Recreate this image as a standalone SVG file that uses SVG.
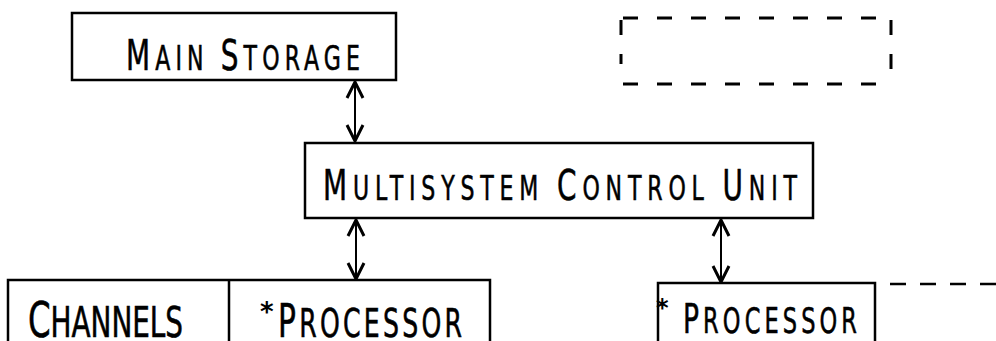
<svg xmlns="http://www.w3.org/2000/svg" width="996" height="341" viewBox="0 0 996 341">
<style>
.box{fill:none;stroke:#000;stroke-width:2.5}
.dash{fill:none;stroke:#000;stroke-width:3;stroke-dasharray:15 19}
.conn{fill:none;stroke:#000;stroke-width:2}
.t{font-family:"DejaVu Sans Condensed","DejaVu Sans",sans-serif;fill:#000;stroke:#000;stroke-width:0.4}
.ast{font-family:"DejaVu Sans",sans-serif;font-weight:bold;fill:#000}
</style>
<defs>
<marker id="ah" viewBox="0 0 20 20" refX="18" refY="10" markerWidth="20" markerHeight="20" markerUnits="userSpaceOnUse" orient="auto-start-reverse">
<path d="M2,2 L18,10 L2,18" fill="none" stroke="#000" stroke-width="3"/>
</marker>
</defs>
<g id="main-storage">
<rect class="box" x="72" y="13" width="324" height="67"/>
<text class="t" transform="translate(126,70) scale(1,1.4)" x="0" y="0" textLength="234" lengthAdjust="spacing"><tspan font-size="31">M</tspan><tspan font-size="24.5">AIN </tspan><tspan font-size="31">S</tspan><tspan font-size="24.5">TORAGE</tspan></text>
</g>
<g id="dashed-box">
<path class="dash" d="M623,18 H891 M891,20 V82 M623,84 H891 M621,20 V64"/>
</g>
<g id="mcu">
<rect class="box" x="305" y="143" width="508" height="75"/>
<text class="t" transform="translate(323,200) scale(1,1.4)" x="0" y="0" textLength="474" lengthAdjust="spacing"><tspan font-size="31">M</tspan><tspan font-size="24.5">ULTISYSTEM </tspan><tspan font-size="31">C</tspan><tspan font-size="24.5">ONTROL </tspan><tspan font-size="31">U</tspan><tspan font-size="24.5">NIT</tspan></text>
</g>
<g id="channels-processor">
<path class="box" d="M8,345 V280 H490 V345 M229,280 V345"/>
<text class="t" transform="translate(28,337) scale(1,1.4)" x="0" y="0" textLength="155" lengthAdjust="spacing"><tspan font-size="36">C</tspan><tspan font-size="31">HANNELS</tspan></text>
<text class="ast" x="260" y="321" font-size="26">*</text>
<text class="t" transform="translate(278,337) scale(1,1.4)" x="0" y="0" textLength="184" lengthAdjust="spacing"><tspan font-size="33">P</tspan><tspan font-size="28">ROCESSOR</tspan></text>
</g>
<g id="processor-2">
<path class="box" d="M658,345 V283 H875 V345"/>
<text class="ast" x="656" y="316" font-size="24">*</text>
<text class="t" transform="translate(683,333) scale(1,1.4)" x="0" y="0" textLength="174" lengthAdjust="spacing"><tspan font-size="29.5">P</tspan><tspan font-size="25">ROCESSOR</tspan></text>
</g>
<g id="connectors">
<line class="conn" x1="355" y1="82" x2="355" y2="141" marker-start="url(#ah)" marker-end="url(#ah)"/>
<line class="conn" x1="356" y1="220" x2="356" y2="279" marker-start="url(#ah)" marker-end="url(#ah)"/>
<line class="conn" x1="721" y1="220" x2="721" y2="282" marker-start="url(#ah)" marker-end="url(#ah)"/>
<path class="dash" d="M890,284 H996" style="stroke-dasharray:16 14;stroke-width:2.5"/>
</g>
</svg>
